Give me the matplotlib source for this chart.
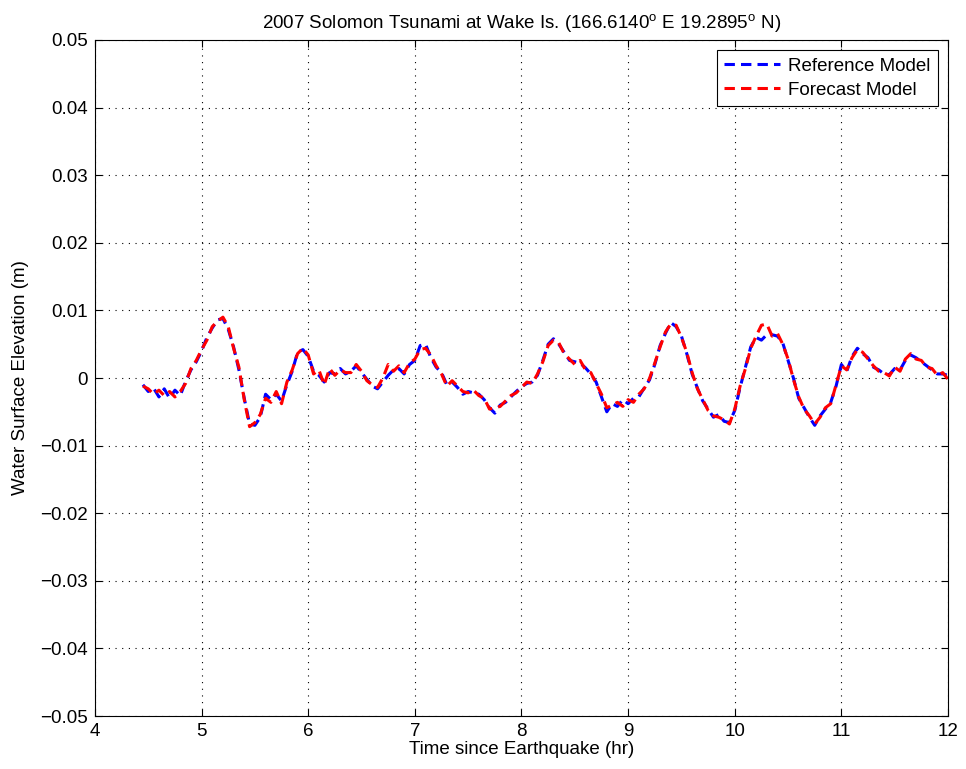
import numpy as np
import matplotlib
matplotlib.use('Agg')
import matplotlib.pyplot as plt

plt.rcParams['font.family'] = ['Liberation Sans', 'DejaVu Sans']
plt.rcParams['mathtext.fontset'] = 'custom'
plt.rcParams['mathtext.rm'] = 'Liberation Sans'

# time since earthquake (hr)
time_hr = [
    4.45, 4.50, 4.55, 4.60, 4.65, 4.70, 4.75, 4.80, 4.85, 4.90, 4.95,
    5.00, 5.05, 5.10, 5.15, 5.20, 5.25, 5.30, 5.35, 5.40, 5.45,
    5.50, 5.55, 5.60, 5.65, 5.70, 5.75, 5.80, 5.85, 5.90, 5.95,
    6.00, 6.05, 6.10, 6.15, 6.20, 6.25, 6.30, 6.35, 6.40, 6.45,
    6.50, 6.55, 6.60, 6.65, 6.70, 6.75, 6.80, 6.85, 6.90, 6.95,
    7.00, 7.05, 7.10, 7.15, 7.20, 7.25, 7.30, 7.35, 7.40, 7.45,
    7.50, 7.55, 7.60, 7.65, 7.70, 7.75, 7.80, 7.85, 7.90, 7.95,
    8.00, 8.05, 8.10, 8.15, 8.20, 8.25, 8.30, 8.35, 8.40, 8.45,
    8.50, 8.55, 8.60, 8.65, 8.70, 8.75, 8.80, 8.85, 8.90, 8.95,
    9.00, 9.05, 9.10, 9.15, 9.20, 9.25, 9.30, 9.35, 9.40, 9.45,
    9.50, 9.55, 9.60, 9.65, 9.70, 9.75, 9.80, 9.85, 9.90, 9.95,
    10.00, 10.05, 10.10, 10.15, 10.20, 10.25, 10.30, 10.35, 10.40, 10.45,
    10.50, 10.55, 10.60, 10.65, 10.70, 10.75, 10.80, 10.85, 10.90, 10.95,
    11.00, 11.05, 11.10, 11.15, 11.20, 11.25, 11.30, 11.35, 11.40, 11.45,
    11.50, 11.55, 11.60, 11.65, 11.70, 11.75, 11.80, 11.85, 11.90, 11.95,
    12.00,
]

# water surface elevation (mm), reference model
reference_mm = [
    -1.0, -2.0, -1.5, -2.8, -1.6, -3.0, -1.8, -2.6, -0.5, 1.2, 2.4,
    4.0, 6.0, 7.4, 8.6, 8.8, 7.2, 4.6, 1.2, -3.0, -6.8,
    -7.0, -5.8, -2.4, -3.2, -2.4, -3.4, -1.0, 1.0, 3.8, 4.2,
    3.2, 1.0, 0.4, -0.6, 0.8, 0.6, 1.4, 0.6, 1.0, 1.8,
    0.8, -0.2, -1.2, -1.6, -0.6, 0.4, 1.2, 1.4, 0.6, 2.0,
    2.6, 4.8, 5.0, 3.0, 1.6, 0.8, -1.0, -0.6, -1.4, -2.4,
    -2.0, -2.2, -2.4, -3.2, -4.4, -5.2, -4.0, -3.6, -2.8, -2.0,
    -1.3, -0.8, -0.6, 0.4, 2.6, 5.0, 5.8, 5.0, 3.8, 2.6,
    2.4, 2.2, 1.5, 0.6, -0.6, -2.8, -5.0, -3.8, -4.2, -3.2,
    -3.8, -3.0, -2.8, -1.5, -0.3, 2.0, 4.8, 6.6, 8.2, 7.6,
    6.2, 3.6, 0.6, -1.5, -3.4, -4.6, -5.8, -5.4, -6.4, -6.6,
    -4.8, -1.4, 1.6, 4.6, 6.0, 5.6, 6.4, 6.4, 6.2, 5.2,
    2.6, 0.0, -3.0, -4.4, -5.8, -7.0, -5.6, -4.6, -3.6, -1.2,
    2.0, 1.0, 3.2, 4.4, 3.6, 3.0, 1.6, 1.2, 0.6, 0.5,
    1.4, 1.2, 2.6, 3.4, 3.0, 2.4, 1.8, 1.2, 0.6, 0.6,
    0.4,
]

# water surface elevation (mm), forecast model
forecast_mm = [
    -1.2, -1.6, -2.4, -1.8, -2.6, -2.0, -2.8, -2.0, -0.8, 1.4, 2.6,
    4.2, 5.6, 7.6, 8.4, 9.0, 7.6, 4.4, 1.6, -3.2, -7.2,
    -6.6, -5.4, -3.0, -3.6, -2.0, -3.8, -0.6, 1.2, 3.6, 4.4,
    3.4, 0.6, 1.2, -1.0, 1.4, 0.4, 1.2, 0.8, 0.8, 2.0,
    1.0, -0.4, -1.0, -1.4, 0.0, 2.0, 1.0, 1.8, 0.8, 2.2,
    2.8, 4.2, 4.4, 3.4, 1.8, 0.6, -1.2, -0.4, -1.2, -2.0,
    -2.2, -1.8, -2.6, -3.0, -4.6, -4.4, -4.2, -3.4, -2.6, -2.2,
    -1.4, -0.6, -0.8, 0.6, 2.4, 4.8, 5.6, 5.2, 3.6, 2.8,
    2.0, 2.6, 1.2, 0.8, -0.8, -2.4, -4.4, -4.0, -3.6, -4.2,
    -3.2, -3.6, -2.4, -1.6, -0.1, 2.2, 4.6, 6.8, 8.0, 7.8,
    6.0, 3.8, 0.8, -1.6, -3.2, -4.8, -5.6, -5.8, -6.2, -6.8,
    -4.6, -1.2, 1.4, 4.4, 6.2, 7.8, 8.0, 6.2, 6.6, 5.0,
    2.8, -0.2, -2.8, -4.6, -5.6, -6.8, -5.8, -4.4, -3.8, -1.0,
    1.8, 1.2, 3.0, 4.2, 3.8, 2.8, 1.8, 1.0, 0.8, 0.3,
    1.6, 1.0, 2.8, 3.6, 2.8, 2.6, 1.6, 1.4, 0.4, 0.8,
    -0.2,
]

t = np.array(time_hr)
ref = np.array(reference_mm) / 1000.0
fcst = np.array(forecast_mm) / 1000.0

fs = 13.5

fig = plt.figure(figsize=(9.66, 7.69), dpi=100)
ax = fig.add_axes([0.0983, 0.0689, 0.8831, 0.8791])

ax.plot(t, ref, color='#0000ff', lw=2.2, dashes=(3.4, 2.0), label='Reference Model')
ax.plot(t, fcst, color='#ff0000', lw=2.2, dashes=(3.4, 2.0), label='Forecast Model')

ax.set_xlim(4, 12)
ax.set_ylim(-0.05, 0.05)
ax.set_xticks(np.arange(4, 12.1, 1))
ax.set_yticks(np.arange(-0.05, 0.0501, 0.01))
ax.set_yticklabels(['\u22120.05', '\u22120.04', '\u22120.03', '\u22120.02', '\u22120.01',
                    '0', '0.01', '0.02', '0.03', '0.04', '0.05'])
ax.tick_params(direction='in', top=True, right=True, labelsize=fs, length=5, width=0.8, pad=5)
ax.grid(True, color='black', linestyle=(0, (1, 5)), linewidth=0.8)
for s in ax.spines.values():
    s.set_linewidth(0.8)

ax.set_xlabel('Time since Earthquake (hr)', fontsize=fs, labelpad=1)
ax.set_ylabel('Water Surface Elevation (m)', fontsize=fs, labelpad=8)
ax.set_title(r'2007 Solomon Tsunami at Wake Is. (166.6140$^{\rm o}$ E 19.2895$^{\rm o}$ N)',
             fontsize=fs, pad=8)

leg = ax.legend(loc='upper right', fontsize=fs, fancybox=False, framealpha=1,
                edgecolor='black', borderaxespad=0.55, handlelength=3.0,
                borderpad=0.4, labelspacing=0.35, handletextpad=0.4)
leg.get_frame().set_linewidth(0.8)

fig.savefig('out.png', dpi=100)
